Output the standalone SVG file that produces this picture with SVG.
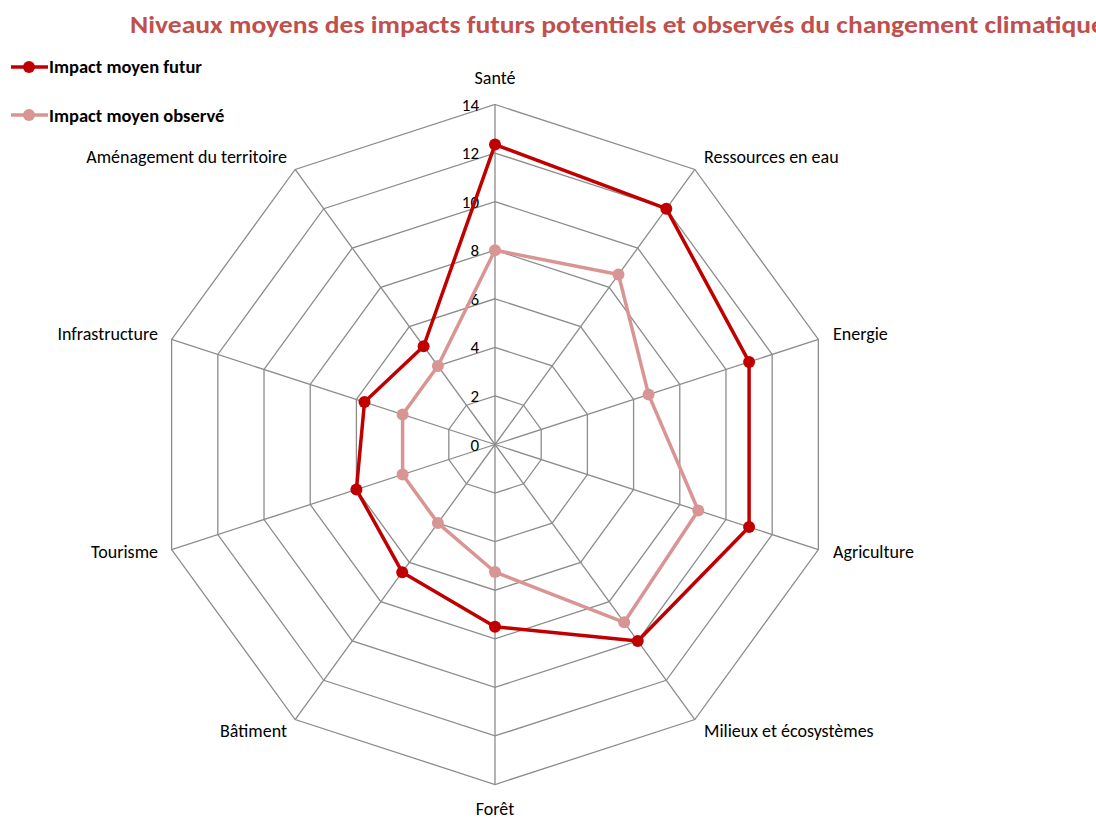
<svg xmlns="http://www.w3.org/2000/svg" xmlns:xlink="http://www.w3.org/1999/xlink" width="1096" height="819" viewBox="0 0 1096 819">
<style>
text{font-family:Carlito,"Liberation Sans Narrow","Liberation Sans",sans-serif;fill:#000}
.title{font-size:25px;font-weight:bold;fill:#C0504D}
.leg{font-size:18.5px;font-weight:bold}
.ax{font-size:18px}
.tick{font-size:17px;text-anchor:end}
.grid{fill:none;stroke:#8C8C8C}
.fut{fill:none;stroke:#C00000;stroke-width:3.5;stroke-linejoin:round}
.obs{fill:none;stroke:#D99594;stroke-width:3.5;stroke-linejoin:round}
.mf{fill:#C00000}
.mo{fill:#D99594}
</style>
<defs>
<polygon id="deca" points="0,-340 199.85,-275.06 323.37,-105.07 323.37,105.07 199.85,275.06 0,340 -199.85,275.06 -323.37,105.07 -323.37,-105.07 -199.85,-275.06"/>
</defs>
<rect width="1096" height="819" fill="#fff"/>
<text class="title" x="130" y="33" textLength="975" lengthAdjust="spacingAndGlyphs">Niveaux moyens des impacts futurs potentiels et observés du changement climatique</text>
<g id="legend">
<line x1="11" y1="67" x2="48" y2="67" stroke="#C00000" stroke-width="3.5"/>
<circle cx="29" cy="67" r="6" class="mf"/>
<text class="leg" x="49" y="73">Impact moyen futur</text>
<line x1="11" y1="115" x2="48" y2="115" stroke="#D99594" stroke-width="3.5"/>
<circle cx="29" cy="115" r="6" class="mo"/>
<text class="leg" x="49" y="121.5">Impact moyen observé</text>
</g>
<g id="grid" transform="translate(495,444.5)">
<use xlink:href="#deca" class="grid" transform="scale(0.142857)" style="stroke-width:9.1"/>
<use xlink:href="#deca" class="grid" transform="scale(0.285714)" style="stroke-width:4.55"/>
<use xlink:href="#deca" class="grid" transform="scale(0.428571)" style="stroke-width:3.03"/>
<use xlink:href="#deca" class="grid" transform="scale(0.571429)" style="stroke-width:2.275"/>
<use xlink:href="#deca" class="grid" transform="scale(0.714286)" style="stroke-width:1.82"/>
<use xlink:href="#deca" class="grid" transform="scale(0.857143)" style="stroke-width:1.517"/>
<use xlink:href="#deca" class="grid" style="stroke-width:1.3"/>
<g stroke="#8C8C8C" stroke-width="1.3">
<line x1="0" y1="0" x2="0" y2="-340"/>
<line x1="0" y1="0" x2="199.85" y2="-275.06"/>
<line x1="0" y1="0" x2="323.37" y2="-105.07"/>
<line x1="0" y1="0" x2="323.37" y2="105.07"/>
<line x1="0" y1="0" x2="199.85" y2="275.06"/>
<line x1="0" y1="0" x2="0" y2="340"/>
<line x1="0" y1="0" x2="-199.85" y2="275.06"/>
<line x1="0" y1="0" x2="-323.37" y2="105.07"/>
<line x1="0" y1="0" x2="-323.37" y2="-105.07"/>
<line x1="0" y1="0" x2="-199.85" y2="-275.06"/>
</g>
</g>
<g id="ticks">
<text class="tick" x="479" y="450.5">0</text>
<text class="tick" x="479" y="402">2</text>
<text class="tick" x="479" y="353.4">4</text>
<text class="tick" x="479" y="304.8">6</text>
<text class="tick" x="479" y="256.2">8</text>
<text class="tick" x="479" y="207.6">10</text>
<text class="tick" x="479" y="159.1">12</text>
<text class="tick" x="479" y="110.5">14</text>
</g>
<g id="axis-labels">
<text class="ax" x="495" y="84" text-anchor="middle">Santé</text>
<text class="ax" x="704" y="163">Ressources en eau</text>
<text class="ax" x="833" y="340">Energie</text>
<text class="ax" x="833" y="558">Agriculture</text>
<text class="ax" x="704" y="736.5">Milieux et écosystèmes</text>
<text class="ax" x="495" y="815" text-anchor="middle">Forêt</text>
<text class="ax" x="287" y="736.5" text-anchor="end">Bâtiment</text>
<text class="ax" x="158" y="558" text-anchor="end">Tourisme</text>
<text class="ax" x="158" y="340" text-anchor="end">Infrastructure</text>
<text class="ax" x="287" y="163" text-anchor="end">Aménagement du territoire</text>
</g>
<g id="connectors">
<polygon id="series-observe" class="obs" points="495,250.2 618.48,274.55 648.6,394.6 698.26,510.54 624.19,622.31 495,572 437.9,523.09 402.61,474.52 402.61,414.48 437.9,365.91"/>
<polygon id="series-futur" class="fut" points="495,144.6 666.3,208.7 749.1,361.95 749.1,527.05 637.75,640.97 495,626.64 402.21,572.21 356.41,489.53 364.5,402.1 423.62,346.27"/>
</g>
<g id="markers-observe" class="mo">
<circle cx="495" cy="250.2" r="6"/>
<circle cx="618.48" cy="274.55" r="6"/>
<circle cx="648.6" cy="394.6" r="6"/>
<circle cx="698.26" cy="510.54" r="6"/>
<circle cx="624.19" cy="622.31" r="6"/>
<circle cx="495" cy="572" r="6"/>
<circle cx="437.9" cy="523.09" r="6"/>
<circle cx="402.61" cy="474.52" r="6"/>
<circle cx="402.61" cy="414.48" r="6"/>
<circle cx="437.9" cy="365.91" r="6"/>
</g>
<g id="markers-futur" class="mf">
<circle cx="495" cy="144.6" r="6"/>
<circle cx="666.3" cy="208.7" r="6"/>
<circle cx="749.1" cy="361.95" r="6"/>
<circle cx="749.1" cy="527.05" r="6"/>
<circle cx="637.75" cy="640.97" r="6"/>
<circle cx="495" cy="626.64" r="6"/>
<circle cx="402.21" cy="572.21" r="6"/>
<circle cx="356.41" cy="489.53" r="6"/>
<circle cx="364.5" cy="402.1" r="6"/>
<circle cx="423.62" cy="346.27" r="6"/>
</g>
</svg>
